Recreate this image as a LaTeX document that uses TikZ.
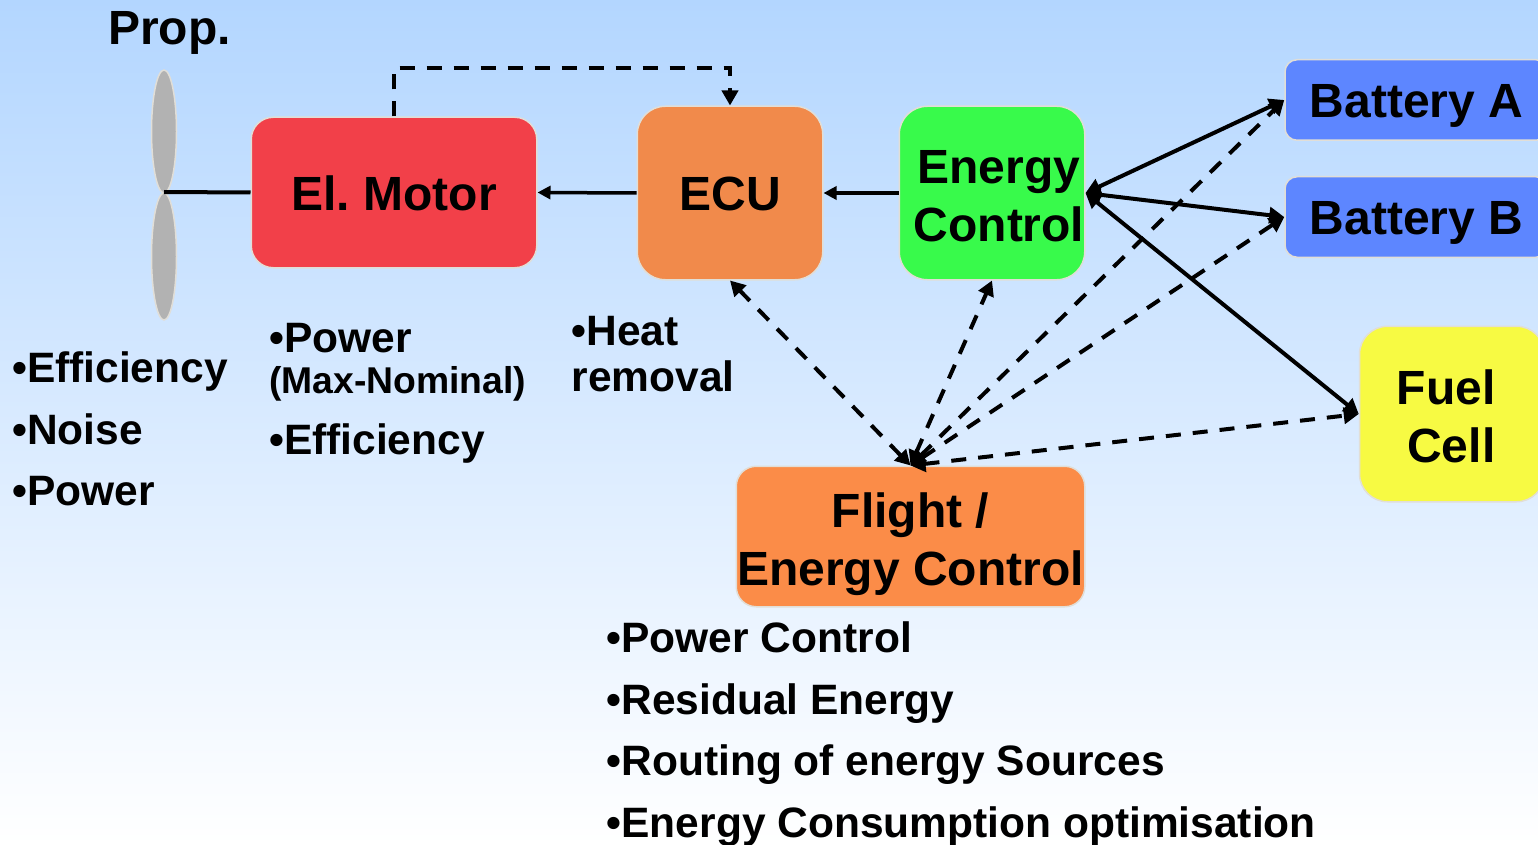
\documentclass[tikz,border=0pt]{standalone}
\usepackage{fontspec}
\setmainfont{Liberation Sans}
\usetikzlibrary{arrows.meta,shapes.geometric}
\definecolor{skytop}{HTML}{B3D6FF}
\definecolor{edgegray}{HTML}{E1DED7}
\definecolor{bladegray}{HTML}{B2B2B2}
\definecolor{motorred}{HTML}{F24049}
\definecolor{ecuorange}{HTML}{F18A4B}
\definecolor{energygreen}{HTML}{38FA4B}
\definecolor{battblue}{HTML}{5D86FF}
\definecolor{fuelyellow}{HTML}{F7FA43}
\definecolor{flightorange}{HTML}{FB8C48}
\begin{document}
\begin{tikzpicture}[
x=1pt, y=-1pt,
block/.style={rectangle, draw=edgegray, line width=1.5pt, inner sep=0pt, align=center, text height=35pt, text depth=0pt, font=\fontsize{48}{58}\bfseries\selectfont},
blade/.style={ellipse, draw=edgegray, line width=1.5pt, fill=bladegray, inner sep=0pt, minimum width=25pt},
note/.style={anchor=north west, inner sep=0pt, align=left, font=\fontsize{42.5}{61.7}\bfseries\selectfont},
power/.style={line width=3.5pt, -{Triangle[length=13pt,width=13pt]}},
link/.style={line width=4pt, {Triangle[length=15pt,width=16pt]}-{Triangle[length=15pt,width=16pt]}},
signal/.style={line width=4pt, dash pattern=on 15pt off 12pt, {Triangle[length=15pt,width=16pt]}-{Triangle[length=15pt,width=16pt]}}
]
\path[use as bounding box] (0,0) rectangle (1538,845);
\shade[top color=skytop, bottom color=white] (0,0) rectangle (1538,845);

\node[anchor=base west, inner sep=0pt, font=\fontsize{48}{58}\bfseries\selectfont] (prop) at (108,45) {Prop.};
\node[blade, minimum height=123pt] (bladeup) at (164,131.5) {};
\node[blade, minimum height=127pt] (bladedown) at (164,256.5) {};
\coordinate (hub) at (164,192);

\node[block, fill=motorred, minimum width=285.5pt, minimum height=150.5pt, rounded corners=22pt] (motor) at (394,192.5) {\spaceskip=9pt El. Motor};
\node[block, fill=ecuorange, minimum width=185.5pt, minimum height=173.5pt, rounded corners=28pt] (ecu) at (730,193) {ECU};
\node[block, fill=energygreen, minimum width=185.5pt, minimum height=173.5pt, rounded corners=28pt, text height=96pt] (energy) at (992,193) {\hspace*{14pt}Energy\\\hspace*{14pt}Control};
\node[block, fill=battblue, minimum width=263pt, minimum height=80.5pt, rounded corners=12pt] (batta) at (1416.5,100) {Battery A};
\node[block, fill=battblue, minimum width=263pt, minimum height=80.5pt, rounded corners=12pt] (battb) at (1416.5,217) {Battery B};
\node[block, fill=fuelyellow, minimum width=185pt, minimum height=175.5pt, rounded corners=28pt, text height=96pt, align=right] (fuel) at (1452,414) {Fuel\hspace*{12pt}\\Cell\hspace*{12pt}};
\node[block, fill=flightorange, minimum width=348.5pt, minimum height=140.5pt, rounded corners=20pt, text height=97pt] (flight) at (910.5,536.5) {Flight /\\Energy Control};

\draw[line width=4pt] (motor.west) -- (hub);
\draw[power] (ecu.west) -- (motor.east);
\draw[power] (energy.west) -- (ecu.east);
\draw[signal, {-{Triangle[length=15pt,width=16pt]}}] (motor.north) -- ++(0,-48.5) -| (ecu.north);

\draw[link] (batta.west) -- (energy.east);
\draw[link] (battb.west) -- (energy.east);
\draw[link] (fuel.west) -- (energy.east);

\draw[signal] (flight.north) -- (ecu.south);
\draw[signal] (flight.north) -- (energy.south);
\draw[signal] (flight.north) -- (batta.west);
\draw[signal] (flight.north) -- (battb.west);
\draw[signal] (flight.north) -- (fuel.west);

\node[note] (propnotes) at (12,351.5) {•Efficiency\\•Noise\\•Power};
\node[note] (motornotes) at (269,323) {•Power\\[-21pt]{\fontsize{37.3}{46}\selectfont (Max-Nominal)}\\•Efficiency};
\node[note, font=\fontsize{42.5}{46}\bfseries\selectfont] (ecunotes) at (571.5,316) {•Heat\\removal};
\node[note] (flightnotes) at (606.5,621.5) {•Power Control\\•Residual Energy\\•Routing of energy Sources\\•Energy Consumption optimisation};
\end{tikzpicture}
\end{document}
